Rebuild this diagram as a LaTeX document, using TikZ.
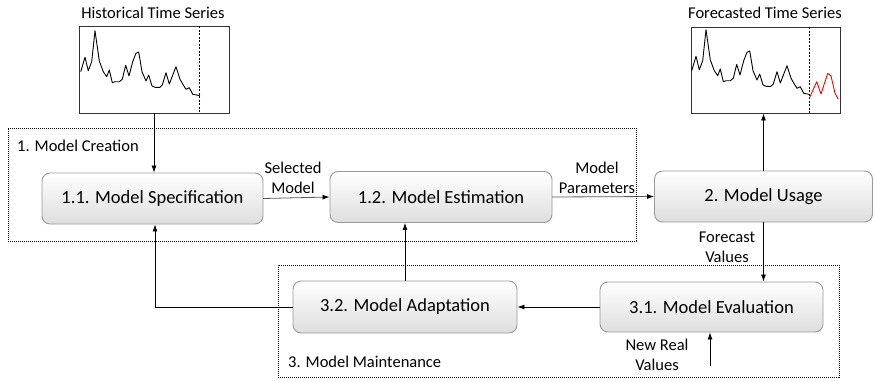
\documentclass[tikz,border=0pt]{standalone}
\usepackage{fontspec}
\setmainfont{Carlito}
\usetikzlibrary{arrows.meta}
\begin{document}
\begin{tikzpicture}[x=1pt,y=-1pt,
  proc/.style={draw=black!40, line width=0.9pt, rounded corners=8pt, top color=white, bottom color=black!13,
    minimum height=51pt, inner sep=0pt, font=\fontsize{18.5}{20}\selectfont},
  grp/.style={draw=black, dash pattern=on 1.2pt off 0.8pt, line width=0.8pt, inner sep=0pt},
  dots/.style={draw=black, dash pattern=on 1.2pt off 0.8pt, line width=0.8pt},
  solidln/.style={draw=black, line width=0.8pt},
  arr/.style={-{Latex[length=7pt,width=5pt]}},
  lbl/.style={font=\fontsize{16.5}{20}\selectfont, align=center, inner sep=0pt},
  chart/.style={draw=black!80, line width=0.9pt, inner sep=0pt},
  series/.style={line width=0.9pt, line join=round}]
\useasboundingbox (0,0) rectangle (875,380);

% group frames
\node[grp, minimum width=628pt, minimum height=113pt] (creation) at (322,184.5) {};
\node[grp, minimum width=561pt, minimum height=112pt] (maint) at (558.5,321) {};
\node[lbl, anchor=west] (creationlbl) at (17,146) {1. Model Creation};
\node[lbl, anchor=west] (maintlbl) at (288,362) {3. Model Maintenance};

% process boxes
\node[proc, minimum width=221pt] (spec) at (152.5,198.5) {1.1. Model Specification};
\node[proc, minimum width=222pt] (est) at (441,197) {1.2. Model Estimation};
\node[proc, minimum width=218pt] (use) at (763.5,196.5) {2. Model Usage};
\node[proc, minimum width=224pt, minimum height=52pt] (adapt) at (405,307) {3.2. Model Adaptation};
\node[proc, minimum width=223pt, minimum height=50pt] (eval) at (711.5,307) {3.1. Model Evaluation};

% charts
\node[lbl] (histtitle) at (153,13) {Historical Time Series};
\node[lbl] (fctitle) at (765,13) {Forecasted Time Series};
\node[chart, minimum width=150pt, minimum height=87pt] (hist) at (154,69.5) {};
\node[chart, minimum width=149pt, minimum height=86pt] (fc) at (765.5,70) {};

\draw[series] plot coordinates {(80.7,71.7)(85,57.3)(88.3,70.7)(91.7,61.7)(95,30.7)(99.3,61)(103.3,71.7)(106.7,76.7)(109.3,70)(112.3,82.7)(115,81.7)(119.3,81.7)(122.3,79.3)(125.7,65.3)(129,76)(132.7,61.7)(136,53.3)(138.7,52)(142,71.7)(146,81)(148.7,75)(152,86)(155,87.3)(160,87.3)(162.3,85)(166,72.7)(169.3,84)(176,66.7)(180,79.3)(183.3,85)(186,89.3)(189.3,87.7)(192.7,94.3)(196.7,95)(200,96)};
\draw[dash pattern=on 2pt off 1.5pt, line width=0.8pt] (199,26) -- (199,113);

\begin{scope}[xshift=611pt, yshift=1pt]
\draw[series] plot coordinates {(80.7,71.7)(85,57.3)(88.3,70.7)(91.7,61.7)(95,30.7)(99.3,61)(103.3,71.7)(106.7,76.7)(109.3,70)(112.3,82.7)(115,81.7)(119.3,81.7)(122.3,79.3)(125.7,65.3)(129,76)(132.7,61.7)(136,53.3)(138.7,52)(142,71.7)(146,81)(148.7,75)(152,86)(155,87.3)(160,87.3)(162.3,85)(166,72.7)(169.3,84)(176,66.7)(180,79.3)(183.3,85)(186,89.3)(189.3,87.7)(192.7,94.3)(196.7,95)(199,95.7)};
\end{scope}
\draw[series, red] plot coordinates {(810,96.7)(816.7,81.7)(821,94)(827.7,73.3)(831,76)(835,93.3)(838.3,99.3)};
\draw[dash pattern=on 2pt off 1.5pt, line width=0.8pt] (809,27) -- (809,113);

% connectors
\draw[dots, arr] (hist.south) -- (hist.south |- spec.north);
\draw[dots, arr] (spec.east) -- (est.west);
\node[lbl] (sellbl) at (293,178) {Selected\\Model};
\draw[dots, arr] (est.east) -- (use.west);
\node[lbl] (parlbl) at (597,178) {Model\\Parameters};
\draw[solidln, arr] (use.north) -- (use.north |- fc.south);
\draw[solidln, arr] (use.south) -- (use.south |- eval.north);
\node[lbl] (fvlbl) at (727,247) {Forecast\\Values};
\coordinate (nrv) at (710,366);
\draw[solidln, arr] (nrv) -- (nrv |- eval.south);
\node[lbl] (nrvlbl) at (657,355) {New Real\\Values};
\draw[dots, arr] (eval.west) -- (adapt.east);
\coordinate (bend) at (155,307);
\draw[dots, arr] (adapt.west) -- (bend) -- (bend |- spec.south);
\draw[dots, arr] (adapt.north) -- (adapt.north |- est.south);
\end{tikzpicture}
\end{document}
